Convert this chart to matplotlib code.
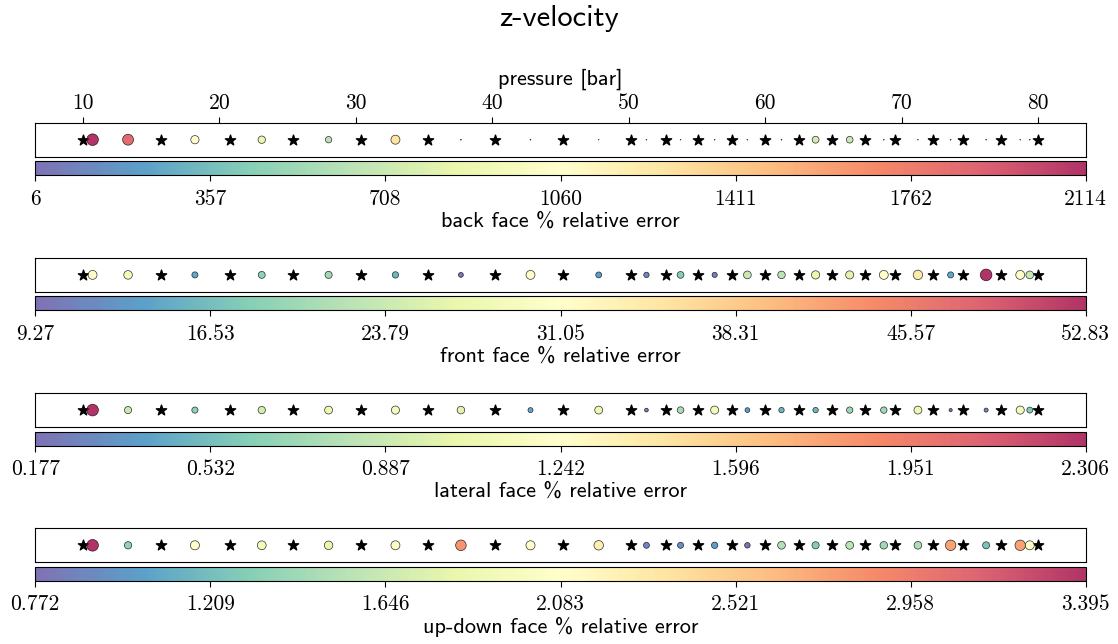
import numpy as np
import matplotlib
matplotlib.use("Agg")
import matplotlib.pyplot as plt

# training pressures (stars) and test pressures (circles), in bar
train_p = [10, 15.7, 20.8, 25.4, 30.4, 35.3, 40.2, 45.2, 50.2, 52.7, 55.1, 57.6,
           60.0, 62.5, 64.9, 67.3, 69.5, 72.3, 74.5, 77.3, 80]
test_p = [10.7, 13.3, 18.2, 23.1, 28.0, 32.9, 37.7, 42.8, 47.8, 51.3, 53.8, 56.3,
          58.7, 61.2, 63.7, 66.2, 68.7, 71.2, 73.6, 76.2, 78.7, 79.4]

# % relative error per face at the test pressures
err_back = [2114, 1860, 1060, 860, 640, 1270, 12, 9, 6, 8, 7, 9,
            8, 10, 740, 700, 9, 8, 10, 9, 8, 9]
err_front = [31.0, 28.9, 14.5, 18.9, 20.2, 15.8, 9.27, 31.0, 13.6, 11.4, 18.0, 10.6,
             23.6, 22.3, 26.7, 25.8, 31.0, 34.5, 14.5, 52.83, 31.0, 23.6]
err_lateral = [2.306, 0.88, 0.65, 0.92, 1.07, 1.135, 0.986, 0.43, 1.07, 0.24, 0.75, 1.11,
               0.39, 0.50, 0.50, 0.69, 0.71, 1.07, 0.177, 0.28, 1.135, 0.60]
err_updown = [3.395, 1.35, 2.08, 1.95, 1.82, 2.03, 2.82, 2.08, 2.24, 0.90, 0.93, 1.03,
              0.772, 1.51, 1.30, 1.56, 1.43, 1.48, 2.74, 1.24, 2.74, 2.03]

faces = ["back face", "front face", "lateral face", "up-down face"]
errors = [err_back, err_front, err_lateral, err_updown]
cbar_ticklabels = [
    ["6", "357", "708", "1060", "1411", "1762", "2114"],
    ["9.27", "16.53", "23.79", "31.05", "38.31", "45.57", "52.83"],
    ["0.177", "0.532", "0.887", "1.242", "1.596", "1.951", "2.306"],
    ["0.772", "1.209", "1.646", "2.083", "2.521", "2.958", "3.395"],
]
p_ticks = [10, 20, 30, 40, 50, 60, 70, 80]

W, H = 1118, 644
fig = plt.figure(figsize=(W / 100, H / 100), dpi=100)

sans = "cmss10"
serif = "cmr10"

fig.text(0.5, 1 - 19 / H, "z-velocity", ha="center", va="center",
         fontsize=22, family=sans)

left = 35.3 / W
width = (1085.7 - 35.3) / W
for i, (face, err) in enumerate(zip(faces, errors)):
    top = 122.7 + 135.2 * i
    ax = fig.add_axes([left, 1 - (top + 34) / H, width, 34 / H])
    cax = fig.add_axes([left, 1 - (top + 52.5) / H, width, 14 / H])

    err = np.array(err)
    ax.scatter(train_p, np.zeros(len(train_p)), marker="*", s=60, c="k", zorder=3)
    sc = ax.scatter(test_p, np.zeros(len(test_p)), c=err, cmap="Spectral_r",
                    vmin=err.min(), vmax=err.max(), s=70 * err / err.max(),
                    alpha=0.8, edgecolors="k", linewidths=0.5, zorder=4)
    ax.set_ylim(-1, 1)
    ax.set_yticks([])
    if i == 0:
        ax.xaxis.tick_top()
        ax.xaxis.set_label_position("top")
        ax.set_xticks(p_ticks)
        ax.set_xticklabels([str(t) for t in p_ticks], family=serif, fontsize=15.5)
        ax.tick_params(axis="x", length=4, width=0.8, pad=3)
        ax.set_xlabel("pressure [bar]", family=sans, fontsize=16, labelpad=6)
    else:
        ax.set_xticks([])

    cb = fig.colorbar(sc, cax=cax, orientation="horizontal")
    cb.set_ticks(np.linspace(err.min(), err.max(), 7))
    cb.set_ticklabels(cbar_ticklabels[i])
    for lab in cax.get_xticklabels():
        lab.set_family(serif)
        lab.set_fontsize(15.5)
    cax.tick_params(axis="x", length=4, width=0.8, pad=6)
    cb.set_label(face + " % relative error", family=sans, fontsize=16, labelpad=2)

fig.savefig("out.png", dpi=100)
